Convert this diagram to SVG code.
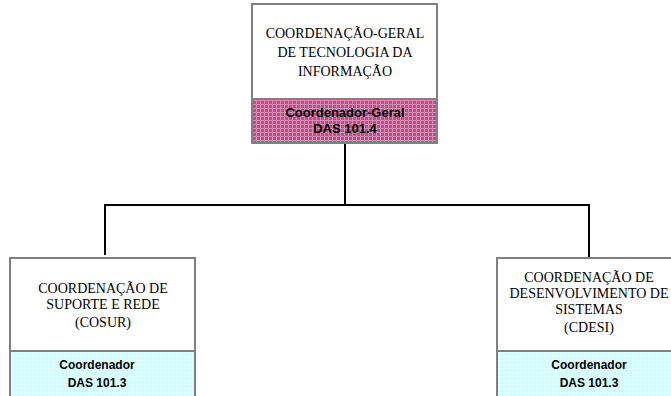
<svg xmlns="http://www.w3.org/2000/svg" width="671" height="396" viewBox="0 0 671 396">
<defs>
<pattern id="pink" width="4" height="4" patternUnits="userSpaceOnUse">
<rect width="4" height="4" fill="#b9508a"/>
<rect width="4" height="1" fill="#d88ab3"/>
<rect width="1" height="4" fill="#d88ab3"/>
</pattern>
<pattern id="cyan" width="4" height="4" patternUnits="userSpaceOnUse">
<rect width="4" height="4" fill="#ccffff"/>
<rect width="4" height="1" fill="#e0ffff"/>
<rect width="1" height="4" fill="#e0ffff"/>
</pattern>
<style>
.box{fill:#ffffff;stroke:#808080;stroke-width:2}
.band{stroke:#808080;stroke-width:2}
.t{font-family:"Liberation Serif","Times New Roman",serif;font-size:14px;fill:#000;text-anchor:middle}
.b{font-family:"Liberation Sans",Arial,sans-serif;font-size:12px;font-weight:bold;fill:#000;text-anchor:middle}
.b13{font-size:13px}
.c{fill:none;stroke:#000;stroke-width:2}
</style>
</defs>
<g id="connectors">
<path class="c" d="M345 144 V205 M105 255 V205 H589 V257"/>
</g>
<g id="cgti">
<rect class="box" x="252" y="4" width="185" height="139"/>
<rect class="band" x="252" y="99" width="185" height="44" fill="url(#pink)"/>
<text class="t" x="345" y="38">COORDENAÇÃO-GERAL</text>
<text class="t" x="345" y="57">DE TECNOLOGIA DA</text>
<text class="t" x="345" y="76">INFORMAÇÃO</text>
<text class="b b13" x="345" y="117">Coordenador-Geral</text>
<text class="b b13" x="345" y="133">DAS 101.4</text>
</g>
<g id="cosur">
<rect class="box" x="10" y="258" width="185" height="139"/>
<rect class="band" x="10" y="351" width="185" height="46" fill="url(#cyan)"/>
<text class="t" x="103" y="293">COORDENAÇÃO DE</text>
<text class="t" x="103" y="309">SUPORTE E REDE</text>
<text class="t" x="103" y="327">(COSUR)</text>
<text class="b" x="97" y="369">Coordenador</text>
<text class="b" x="97" y="387">DAS 101.3</text>
</g>
<g id="cdesi">
<rect class="box" x="497" y="258" width="185" height="139"/>
<rect class="band" x="497" y="351" width="185" height="46" fill="url(#cyan)"/>
<text class="t" x="589" y="282">COORDENAÇÃO DE</text>
<text class="t" x="589" y="298">DESENVOLVIMENTO DE</text>
<text class="t" x="589" y="314">SISTEMAS</text>
<text class="t" x="589" y="332">(CDESI)</text>
<text class="b" x="589" y="369">Coordenador</text>
<text class="b" x="589" y="387">DAS 101.3</text>
</g>
</svg>
